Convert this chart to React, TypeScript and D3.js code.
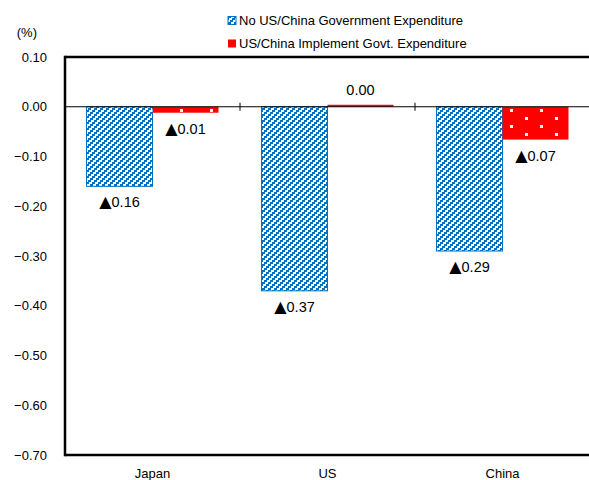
import React from "react";
import * as d3 from "d3";

const categories = ["Japan", "US", "China"];
const seriesNames = [
  "No US/China Government Expenditure",
  "US/China Implement Govt. Expenditure",
];
const seriesNo = [-0.16, -0.37, -0.29];
const seriesImpl = [-0.012, 0.004, -0.066];
const labelsNo = ["▲0.16", "▲0.37", "▲0.29"];
const labelsImpl = ["▲0.01", "0.00", "▲0.07"];
const yTicks = [0.1, 0, -0.1, -0.2, -0.3, -0.4, -0.5, -0.6, -0.7];

const W = 589;
const H = 480;
const left = 65;
const right = 589;
const top = 57;
const bottom = 455;
const font = "'Liberation Sans', Arial, sans-serif";

const P = 6;
const stripeCells: { x: number; y: number }[] = [];
for (let band = 0; band < 3; band++) {
  for (let k = 0; k < 3; k++) {
    stripeCells.push({ x: (4 - band * 2 + k + P) % P, y: band * 2 });
  }
}

export default function App() {
  const y = d3.scaleLinear().domain([0.1, -0.7]).range([top, bottom]);
  const x0 = d3.scaleBand().domain(categories).range([left, left + 175 * 3]).paddingInner(0.246).paddingOuter(0.123);
  const x1 = d3.scaleBand().domain(["a", "b"]).range([0, x0.bandwidth()]);
  const series = [
    { key: "a", values: seriesNo, labels: labelsNo, fill: "url(#stripes)", stroke: "#0070C0" },
    { key: "b", values: seriesImpl, labels: labelsImpl, fill: "url(#dots)", stroke: "none" },
  ];
  const y0 = y(0);
  const boundaries = [1, 2].map((i) => left + 175 * i);
  return (
    <svg width={W} height={H} style={{ position: "absolute", left: 0, top: 0 }}>
      <defs>
        <pattern id="stripes" patternUnits="userSpaceOnUse" width={P} height={P}>
          <rect width={P} height={P} fill="#fff" />
          {stripeCells.map((c, i) => (
            <rect key={i} x={c.x} y={c.y} width={1} height={2} fill="#0070C0" shapeRendering="crispEdges" />
          ))}
        </pattern>
        <pattern id="dots" patternUnits="userSpaceOnUse" width="30" height="16" x="3" y="2">
          <rect width="30" height="16" fill="#FF0000" />
          <rect x="12" y="3" width="3" height="3" fill="#fff" />
          <rect x="27" y="11" width="3" height="3" fill="#fff" />
        </pattern>
      </defs>
      <rect width={W} height={H} fill="#fff" />
      {/* legend */}
      <g fontFamily={font} fontSize={13}>
        <rect x={228} y={16.5} width={8} height={8} fill="url(#stripes)" stroke="#0070C0" strokeWidth={1} />
        <text x={239} y={25}>{seriesNames[0]}</text>
        <rect x={228} y={39.5} width={8} height={8} fill="url(#dots)" />
        <text x={239} y={48}>{seriesNames[1]}</text>
      </g>
      {/* bars */}
      {series.map((s) =>
        categories.map((c, i) => {
          const v = s.values[i];
          const bx = (x0(c) as number) + (x1(s.key) as number);
          const yy = Math.min(y(v), y0);
          const h = Math.abs(y(v) - y0);
          return (
            <rect key={s.key + c} x={bx} y={yy} width={x1.bandwidth()} height={h} fill={s.fill} stroke={s.stroke} strokeWidth={s.stroke === "none" ? 0 : 1} />
          );
        })
      )}
      {/* zero line */}
      <line x1={left} x2={right} y1={y0} y2={y0} stroke="#000" strokeWidth={1} />
      {boundaries.map((b) => (
        <line key={b} x1={b} x2={b} y1={y0 - 4} y2={y0 + 4} stroke="#000" strokeWidth={1} />
      ))}
      {/* data labels */}
      <g fontFamily={font} fontSize={14.5} textAnchor="middle">
        {series.map((s) =>
          categories.map((c, i) => {
            const v = s.values[i];
            const cx = (x0(c) as number) + (x1(s.key) as number) + x1.bandwidth() / 2;
            const ty = v >= 0 ? y(v) - 10 : y(v) + 21;
            const lab = s.labels[i];
            const tri = lab.startsWith("▲");
            return (
              <text key={s.key + c} x={cx} y={ty}>
                {tri ? <tspan fontSize={16} fontFamily="'DejaVu Sans', sans-serif">▲</tspan> : null}
                {tri ? lab.slice(1) : lab}
              </text>
            );
          })
        )}
      </g>
      {/* frame */}
      <line x1={left} x2={right} y1={top} y2={top} stroke="#000" strokeWidth={2.5} />
      <line x1={left} x2={left} y1={top - 1.25} y2={bottom + 1.25} stroke="#000" strokeWidth={2.5} />
      <line x1={left} x2={right} y1={bottom} y2={bottom} stroke="#000" strokeWidth={2.5} />
      {/* y tick labels */}
      <g fontFamily={font} fontSize={13} textAnchor="end">
        {yTicks.map((t) => (
          <text key={t} x={47} y={y(t) + 4.5}>{d3.format(".2f")(t)}</text>
        ))}
        <text x={37} y={37}>(%)</text>
      </g>
      {/* x labels */}
      <g fontFamily={font} fontSize={13} textAnchor="middle">
        {categories.map((c) => (
          <text key={c} x={(x0(c) as number) + x0.bandwidth() / 2} y={478}>{c}</text>
        ))}
      </g>
    </svg>
  );
}
